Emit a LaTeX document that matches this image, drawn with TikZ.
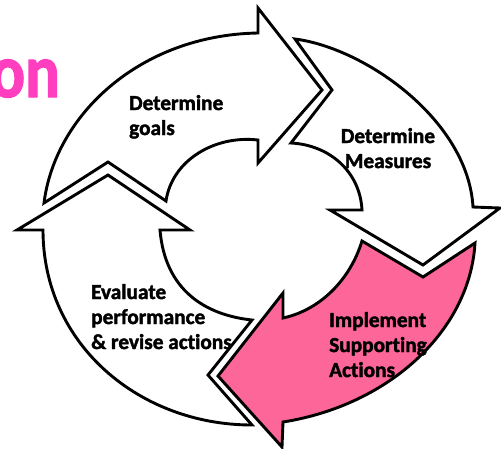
\documentclass[tikz,border=0pt]{standalone}
\usepackage{fontspec}
\usepackage{graphicx}
\setmainfont{Carlito}[Ligatures=NoCommon, BoldFeatures={FakeBold=1.8}]
\definecolor{pinkfill}{RGB}{252,102,153}
\definecolor{titlepink}{RGB}{255,62,192}
\begin{document}
\begin{tikzpicture}[x=1pt,y=-1pt,
  arrowshape/.style={draw=black, line width=2.9pt, line join=miter, miter limit=6, fill=white},
  pinkshape/.style={arrowshape, fill=pinkfill},
  lbl/.style={font=\bfseries\fontsize{21.3}{25}\selectfont, inner sep=0pt, anchor=base west},
  clbl/.style={font=\bfseries\fontsize{21.3}{25}\selectfont, inner sep=0pt, anchor=base}]
\useasboundingbox (0,0) rectangle (501,448);
% Determine goals arrow
\path[arrowshape] (44,203) .. controls (55,115) and (140,35) .. (258,33) -- (258,8) -- (322,90) -- (258,163) -- (258,140)
  .. controls (215,135) and (172,160) .. (166,201) -- (108,162) -- cycle;
% Determine Measures arrow
\path[arrowshape] (295,39) .. controls (365,48) and (468,120) .. (473,207) -- (500,208) -- (423,265) -- (330,210) -- (362,210)
  .. controls (360,172) and (330,145) .. (291,143) -- (332,90) -- cycle;
% Evaluate arrow
\path[arrowshape] (108,175) -- (190,230) -- (160,230) .. controls (165,290) and (205,315) .. (252,320) -- (208,375) -- (252,425)
  .. controls (140,425) and (43,345) .. (43,230) -- (17,230) -- cycle;
% Implement arrow
\path[pinkshape] (475,243) -- (423,277) -- (362,241) .. controls (350,280) and (320,310) .. (283,318) -- (283,293) -- (218,376)
  -- (282,447) -- (283,422) .. controls (390,405) and (470,330) .. (475,243) -- cycle;
% labels
\node[lbl] (goals) at (129,110) {\vtop{\hbox{Determine}\hbox{goals}}};
\node[clbl] (measures) at (388,143) {\vtop{\halign{\hfil#\hfil\cr Determine\cr Measures\cr}}};
\node[lbl] (evaluate) at (91,299) {\vtop{\hbox{Evaluate}\hbox{performance}\hbox{\& revise actions}}};
\node[lbl] (implement) at (329,327) {\vtop{\hbox{Implement}\hbox{Supporting}\hbox{Actions}}};
\node[font=\bfseries\fontsize{76}{76}\selectfont, text=titlepink, inner sep=0pt, anchor=base east] (title) at (60,97) {\scalebox{0.85}[1]{on}};
\end{tikzpicture}
\end{document}
